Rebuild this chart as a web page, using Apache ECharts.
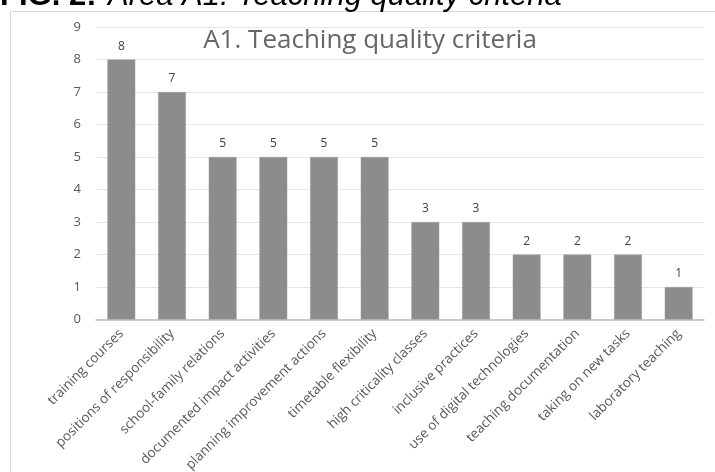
<!DOCTYPE html>
<html>
<head>
<meta charset="utf-8">
<script src="https://cdn.jsdelivr.net/npm/echarts@6/dist/echarts.min.js"></script>
<style>
html,body{margin:0;padding:0;background:#fff;}
#chart{width:715px;height:472px;}
</style>
</head>
<body>
<div id="chart"></div>
<script>
const categories = [
  "training courses",
  "positions of responsibility",
  "school-family relations",
  "documented impact activities",
  "planning improvement actions",
  "timetable flexibility",
  "high criticality classes",
  "inclusive practices",
  "use of digital technologies",
  "teaching documentation",
  "taking on new tasks",
  "laboratory teaching"
];
const values = [8, 7, 5, 5, 5, 5, 3, 3, 2, 2, 2, 1];
const yTicks = [0, 1, 2, 3, 4, 5, 6, 7, 8, 9];
const chartTitle = "A1. Teaching quality criteria";
const captionBold = "FIG. 2:";
const captionItalic = "Area A1: Teaching quality criteria";

const chart = echarts.init(document.getElementById('chart'), null, {renderer: 'canvas'});
chart.setOption({
  animation: false,
  backgroundColor: '#ffffff',
  title: {
    text: chartTitle,
    left: 365, top: 23,
    textAlign: 'center',
    textStyle: {fontFamily: 'Open Sans', fontSize: 26, fontWeight: 'normal', color: '#666666'}
  },
  graphic: [
    {type: 'rect', shape: {x: 10.5, y: 11.5, width: 900, height: 600},
     style: {fill: 'none', stroke: '#d9d9d9', lineWidth: 1}, z: -1},
    {type: 'text', x: 0, y: 12,
     style: {text: captionBold, font: 'bold 31px "Liberation Sans"', fill: '#000', textVerticalAlign: 'bottom', verticalAlign: 'bottom'}},
    {type: 'text', x: 108, y: 12,
     style: {text: captionItalic, font: 'italic 31px "Liberation Sans"', fill: '#000', textVerticalAlign: 'bottom', verticalAlign: 'bottom'}}
  ],
  grid: {left: 96, right: 11, top: 27, bottom: 152.5, containLabel: false, outerBoundsMode: 'none'},
  xAxis: {
    type: 'category',
    data: categories,
    axisLine: {lineStyle: {color: '#bfbfbf', width: 1.5}},
    axisTick: {show: false},
    axisLabel: {rotate: 45, interval: 0, fontFamily: 'Open Sans', fontSize: 13.5, color: '#595959', margin: 12}
  },
  yAxis: {
    type: 'value',
    min: yTicks[0], max: yTicks[yTicks.length - 1], interval: 1,
    axisLine: {show: false},
    axisTick: {show: false},
    splitLine: {lineStyle: {color: '#e6e6e6', width: 1}},
    axisLabel: {fontFamily: 'Open Sans', fontSize: 13, color: '#595959', margin: 15}
  },
  series: [{
    type: 'bar',
    data: values,
    barWidth: '55%',
    itemStyle: {color: '#8c8c8c', borderColor: '#a0a0a0', borderWidth: 0.5},
    label: {show: true, position: 'top', distance: 7, fontFamily: 'Open Sans', fontSize: 12, color: '#404040'}
  }]
});
</script>
</body>
</html>
